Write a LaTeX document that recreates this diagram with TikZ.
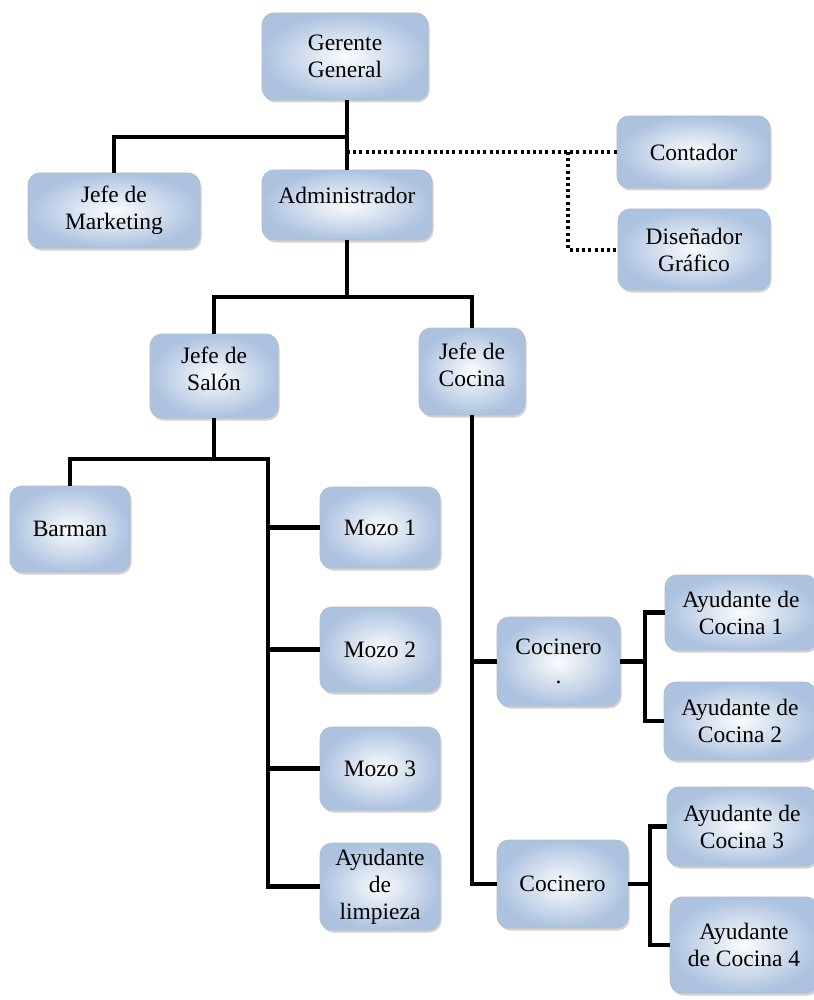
\documentclass[tikz,border=0pt]{standalone}
\usepackage{fontspec}
\setmainfont{Liberation Serif}
\usetikzlibrary{shadows}
\definecolor{boxblue}{RGB}{172,194,223}
\definecolor{boxedge}{RGB}{175,189,208}
\tikzset{
  box/.style={draw=boxedge, line width=0.8pt, rounded corners=12pt,
    inner color=white!95!boxblue, outer color=boxblue, align=center,
    font=\fontsize{23.5}{27}\selectfont, inner sep=2pt,
    drop shadow={opacity=0.35, shadow xshift=1.5pt, shadow yshift=-2.5pt}},
  link/.style={line width=4.2pt, line join=miter},
  dots/.style={line width=4pt, dash pattern=on 3pt off 3.2pt}
}
\newcommand{\orgbox}[7]{% name, cx, cy, width, height, extra, text
  \node[box, minimum width=#4pt, minimum height=#5pt, #6] (#1) at (#2,#3) {#7};}
\begin{document}
\begin{tikzpicture}[x=1pt, y=-1pt]
\useasboundingbox (0,0) rectangle (813,1000);
\fill[white] (0,0) rectangle (813,1000);

% boxes
\orgbox{gg}{345}{56.5}{166}{87}{}{Gerente\\General}
\orgbox{mk}{114}{210.5}{172}{75}{}{Jefe de\\Marketing}
\orgbox{ad}{347}{205}{170}{70}{text depth=20pt}{Administrador}
\orgbox{co}{693.5}{152}{153}{72}{}{Contador}
\orgbox{di}{694}{249.5}{152}{81}{}{Diseñador\\Gráfico}
\orgbox{js}{214}{376}{128}{84}{text depth=14pt}{Jefe de\\Salón}
\orgbox{jc}{472}{371.5}{106}{87}{text depth=14pt}{Jefe de\\Cocina}
\orgbox{ba}{70}{529}{120}{86}{}{Barman}
\orgbox{m1}{380}{527.5}{120}{81}{}{Mozo 1}
\orgbox{m2}{380}{649.5}{120}{85}{}{Mozo 2}
\orgbox{m3}{380}{768.5}{120}{83}{}{Mozo 3}
\orgbox{al}{380}{886.5}{120}{87}{}{Ayudante\\de\\limpieza}
\orgbox{c1}{558.5}{661.5}{123}{89}{}{Cocinero\\[2pt].}
\orgbox{c2}{562.5}{884}{131}{88}{}{Cocinero}
\orgbox{a1}{741}{612.5}{152}{75}{}{Ayudante de\\Cocina 1}
\orgbox{a2}{740}{721}{152}{78}{}{Ayudante de\\Cocina 2}
\orgbox{a3}{742}{826.5}{150}{79}{}{Ayudante de\\Cocina 3}
\orgbox{a4}{744}{945}{148}{96}{}{Ayudante\\de Cocina 4}

% junction points
\coordinate (j1) at (347,137);
\coordinate (j2) at (347,152);
\coordinate (j3) at (568,152);
\coordinate (j4) at (347,297);
\coordinate (j5) at (268,459);

% connectors
\draw[link] (gg.south -| j1) -- (ad.north -| j1);
\draw[link] (mk.north) |- (j1);
\draw[dots] (j2) -- (co.west);
\draw[dots] (j3) |- (di.west);
\draw[link] (ad.south -| j4) -- (j4);
\draw[link] (js.north) |- (j4) -| (jc.north);
\draw[link] (js.south) -- (js.south |- j5);
\draw[link] (ba.north) |- (j5) -- (j5 |- al.west) -- (al.west);
\draw[link] (j5 |- m1.west) -- (m1.west);
\draw[link] (j5 |- m2.west) -- (m2.west);
\draw[link] (j5 |- m3.west) -- (m3.west);
\draw[link] (jc.south) |- (c2.west);
\draw[link] (jc.south |- c1.west) -- (c1.west);
\draw[link] (c1.east) -- ++(25,0);
\draw[link] (a1.west) -- ++(-20,0) |- (a2.west);
\draw[link] (c2.east) -- ++(22,0);
\draw[link] (a3.west) -- ++(-17,0) |- (a4.west);
\end{tikzpicture}
\end{document}
